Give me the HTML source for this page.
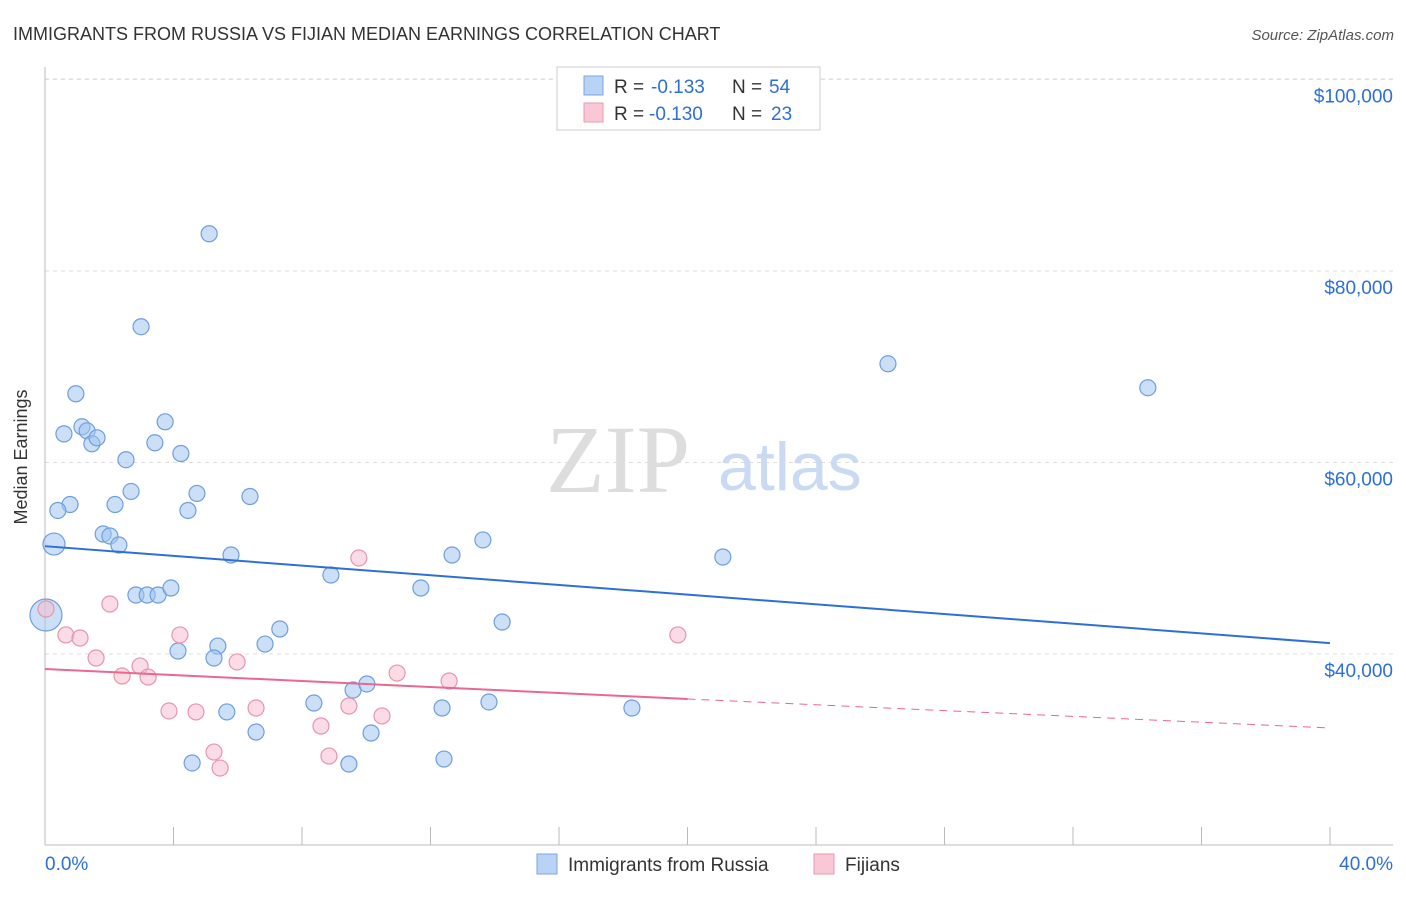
<!DOCTYPE html>
<html><head><meta charset="utf-8"><style>
body{margin:0;background:#fff;font-family:"Liberation Sans",sans-serif}
</style></head><body>
<svg width="1406" height="892" xmlns="http://www.w3.org/2000/svg">
<text x="13" y="40" font-size="18" fill="#333">IMMIGRANTS FROM RUSSIA VS FIJIAN MEDIAN EARNINGS CORRELATION CHART</text>
<text x="1394" y="40" font-size="15" fill="#555" font-style="italic" text-anchor="end">Source: ZipAtlas.com</text>
<g id="grid"></g>
<text x="690" y="492" font-size="96" fill="#ddd" font-family="Liberation Serif" text-anchor="end">ZIP</text>
<text x="718" y="490" font-size="68" fill="#c9daf2">atlas</text>
<text x="27" y="457" font-size="18" fill="#333" transform="rotate(-90 27 457)" text-anchor="middle">Median Earnings</text>
<g id="marks"></g>
<g>
<rect x="557" y="67" width="263" height="63" fill="#fff" stroke="#ccc"/>
<rect x="584" y="76" width="19" height="19" fill="#b8d3f5" stroke="#7aa6e0"/>
<rect x="584" y="103" width="19" height="19" fill="#f9c8d6" stroke="#e999b0"/>
<text x="614" y="93" font-size="19" fill="#333">R =</text>
<text x="651" y="93" font-size="19" fill="#2d6fd6">-0.133</text>
<text x="732" y="93" font-size="19" fill="#333">N =</text>
<text x="769" y="93" font-size="19" fill="#2d6fd6">54</text>
<text x="614" y="120" font-size="19" fill="#333">R =</text>
<text x="649" y="120" font-size="19" fill="#2d6fd6">-0.130</text>
<text x="732" y="120" font-size="19" fill="#333">N =</text>
<text x="771" y="120" font-size="19" fill="#2d6fd6">23</text>
</g>
<g>
<rect x="537" y="854" width="20" height="20" fill="#b8d3f5" stroke="#7aa6e0"/>
<text x="568" y="871" font-size="19" fill="#333">Immigrants from Russia</text>
<rect x="814" y="854" width="20" height="20" fill="#f9c8d6" stroke="#e999b0"/>
<text x="845" y="871" font-size="19" fill="#333">Fijians</text>
</g>
</svg>
<script>
const yTicks=[40000,60000,80000,100000];
const yTickLabels=["$40,000","$60,000","$80,000","$100,000"];
const xTickLabels=["0.0%","40.0%"];
const russiaX=[5.11,2.99,0.96,26.24,34.33,0.59,1.15,1.31,1.46,1.62,3.74,3.42,2.52,4.23,0.78,0.40,2.68,2.18,4.73,4.45,6.38,1.81,2.02,2.30,0.28,5.79,12.67,13.63,21.10,8.90,2.83,3.18,3.52,3.92,11.70,14.23,7.31,6.85,5.38,4.14,5.26,0.03,8.37,9.59,10.02,12.36,13.82,18.27,5.66,6.57,10.15,4.58,9.46,12.42];
const russiaY=[83890,74180,67180,70310,67810,62990,63730,63310,61960,62580,64250,62060,60290,60940,55610,54990,56980,55610,56770,54990,56450,52530,52320,51380,51480,50340,50340,51910,50130,48250,46160,46160,46160,46890,46890,43340,42610,41040,40830,40310,39580,44070,34880,36240,36870,34360,34990,34360,33950,31850,31750,28620,28510,29030];
const russiaR=[8,8,8,8,8,8,8,8,8,8,8,8,8,8,8,8,8,8,8,8,8,8,8,8,11,8,8,8,8,8,8,8,8,8,8,8,8,8,8,8,8,16,8,8,8,8,8,8,8,8,8,8,8,8];
const fijiX=[0.03,0.65,1.09,2.02,1.59,2.40,2.96,3.21,4.20,5.98,3.86,4.70,6.57,5.26,5.45,8.59,8.84,9.46,9.77,10.49,10.96,12.58,19.70];
const fijiY=[44700,41990,41670,45220,39580,37700,38740,37590,41990,39170,34050,33950,34360,29760,28090,32480,29340,34570,50030,33530,38010,37180,41990];
const trendRussia=[[0,51260],[40,41140]];
const trendFiji=[[0,38430],[20,35300],[40,32270]];
const X=v=>45+v/40*1285, Y=v=>654-(v-40000)*191.5/20000;
const NS="http://www.w3.org/2000/svg";
function mk(p,t,a){const e=document.createElementNS(NS,t);for(const k in a)e.setAttribute(k,a[k]);p.appendChild(e);return e;}
const gridG=document.getElementById('grid'),marksG=document.getElementById('marks');
yTicks.forEach((v,i)=>{const l=mk(gridG,'line',{x1:45,x2:1393,y1:Y(v),y2:Y(v),stroke:'#ddd','stroke-dasharray':'4,4'});


const t=mk(gridG,'text',{x:1393,y:Y(v)-50,'font-size':19,fill:'#2d6fd6','text-anchor':'end'});t.textContent=yTickLabels[i];
t.setAttribute('y',Y(v)+23);

});
const topLine=mk(gridG,'line',{x1:45,x2:1393,y1:79,y2:79,stroke:'#ddd','stroke-dasharray':'4,4'});


const axX=mk(gridG,'line',{x1:45,x2:1393,y1:845,y2:845,stroke:'#bbb'});


const axY=mk(gridG,'line',{x1:45,x2:45,y1:67,y2:845,stroke:'#bbb'});


for(let i=1;i<=10;i++){const t=mk(gridG,'line',{x1:X(i*4),x2:X(i*4),y1:827,y2:845,stroke:'#bbb'});

}
[[0,'start',45],[1,'end',1393]].forEach(([i,a,x])=>{const t=mk(gridG,'text',{x:x,y:870,'font-size':19,fill:'#2d6fd6','text-anchor':a});t.textContent=xTickLabels[i];

});
russiaX.forEach((v,i)=>{const c=mk(marksG,'circle',{cx:X(v),cy:Y(russiaY[i]),r:russiaR[i],fill:'rgba(160,196,240,0.55)',stroke:'#6f9ede','stroke-width':1.2});

});
fijiX.forEach((v,i)=>{const c=mk(marksG,'circle',{cx:X(v),cy:Y(fijiY[i]),r:8,fill:'rgba(248,190,208,0.55)',stroke:'#e695ad','stroke-width':1.2});

});
const tr=mk(marksG,'line',{x1:X(trendRussia[0][0]),y1:Y(trendRussia[0][1]),x2:X(trendRussia[1][0]),y2:Y(trendRussia[1][1]),stroke:'#2d6fd6','stroke-width':2});


const tf=mk(marksG,'line',{x1:X(trendFiji[0][0]),y1:Y(trendFiji[0][1]),x2:X(trendFiji[1][0]),y2:Y(trendFiji[1][1]),stroke:'#e8688f','stroke-width':2});


const tf2=mk(marksG,'line',{x1:X(trendFiji[1][0]),y1:Y(trendFiji[1][1]),x2:X(trendFiji[2][0]),y2:Y(trendFiji[2][1]),stroke:'#e8688f','stroke-width':1,'stroke-dasharray':'8,6'});


</script>
</body></html>
